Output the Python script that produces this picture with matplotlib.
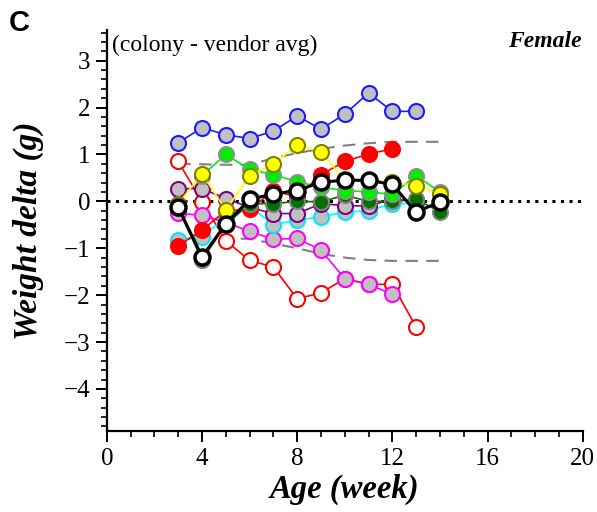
import matplotlib
matplotlib.use("Agg")
import matplotlib.pyplot as plt
import numpy as np
from matplotlib.ticker import MultipleLocator

plt.rcParams['font.family'] = ['Liberation Serif', 'DejaVu Serif']
plt.rcParams['axes.unicode_minus'] = True

# ---- data (weight delta, g) ----
weeks_3_13 = [3, 4, 5, 6, 7, 8, 9, 10, 11, 12, 13]
weeks_3_14 = [3, 4, 5, 6, 7, 8, 9, 10, 11, 12, 13, 14]
weeks_4_14 = [4, 5, 6, 7, 8, 9, 10, 11, 12, 13, 14]

blue_vals = [1.25, 1.57, 1.42, 1.34, 1.50, 1.82, 1.54, 1.86, 2.31, 1.92, 1.92]
red_open_vals = [0.85, -0.01, -0.84, -1.26, -1.40, -2.08, -1.95, -1.65, -1.77, -1.77, -2.68]
magenta_vals = [-0.25, -0.30, -0.45, -0.64, -0.81, -0.79, -1.04, -1.65, -1.77, -1.98]
magenta_weeks = [3, 4, 5, 6, 7, 8, 9, 10, 11, 12]
red_fill_vals = [-0.95, -0.61, -0.20, -0.17, 0.22, 0.10, 0.57, 0.85, 1.01, 1.12]
red_fill_weeks = [3, 4, 5, 6, 7, 8, 9, 10, 11, 12]
purple_vals = [0.27, 0.27, 0.06, -0.13, -0.26, -0.26, -0.05, -0.09, -0.10, 0.05, 0.00]
cyan_vals = [-0.83, -0.75, -0.35, -0.10, -0.50, -0.40, -0.33, -0.23, -0.20, -0.05, -0.05]
dkgreen_vals = [-0.15, -1.25, -0.50, -0.05, -0.05, 0.00, -0.01, 0.13, 0.00, 0.00, 0.04, -0.22]
green_vals = [0.55, 1.00, 0.68, 0.57, 0.42, 0.30, 0.23, 0.20, 0.15, 0.55, 0.20]
yellow_vals = [-0.05, 0.59, -0.19, 0.55, 0.79, 1.21, 1.06, 0.45, 0.45, 0.42, 0.33, 0.16]
black_vals = [-0.13, -1.18, -0.48, 0.04, 0.16, 0.23, 0.41, 0.45, 0.45, 0.36, -0.23, -0.01]

upper_band = [0.80, 0.79, 0.78, 0.78, 0.92, 1.03, 1.12, 1.19, 1.24, 1.27, 1.27, 1.27]
lower_band = [-0.80, -0.79, -0.79, -0.80, -0.90, -1.00, -1.12, -1.20, -1.25, -1.27, -1.27, -1.27]

x_ticks = [0, 4, 8, 12, 16, 20]
y_ticks = [-4, -3, -2, -1, 0, 1, 2, 3]

fig = plt.figure(figsize=(5.97, 5.12), dpi=100)
ax = fig.add_axes([0.179, 0.158, 0.797, 0.783])

# bands and zero line
ax.plot(weeks_3_14, upper_band, ls=(0, (6, 4)), color='#808080', lw=1.5, zorder=1)
ax.plot(weeks_3_14, lower_band, ls=(0, (6, 4)), color='#808080', lw=1.5, zorder=1)
ax.plot([0, 20], [0, 0], ls=(0, (1, 1.8)), color='black', lw=2.2, zorder=1)

ms = 10.8
def series(x, y, line, face, edge, lw=1.2, mew=1.5, z=3):
    ax.plot(x, y, '-', color=line, lw=lw, marker='o', ms=ms,
            mfc=face, mec=edge, mew=mew, zorder=z)

series(weeks_3_13, blue_vals, '#1a1aff', '#c0c0c0', '#1a1aff')
series(weeks_3_13, red_open_vals, '#ff0000', 'white', '#ff0000')
series(magenta_weeks, magenta_vals, '#ff00ff', '#c0c0c0', '#ff00ff')
series(weeks_3_13, cyan_vals, '#00ffff', '#c0c0c0', '#00e5ff')
series(weeks_3_13, purple_vals, '#800080', '#c0c0c0', '#800080')
series(red_fill_weeks, red_fill_vals, '#ff0000', '#ff0000', '#ff0000')
series(weeks_3_14, dkgreen_vals, '#007000', '#007000', '#808080')
series(weeks_4_14, green_vals, '#00ee00', '#00ee00', '#909090')
series(weeks_3_14, yellow_vals, '#ffff00', '#ffff00', '#808000')
series(weeks_3_14, black_vals, 'black', 'white', 'black', lw=2.2, mew=2.5, z=4)

ax.set_xlim(0, 20)
ax.set_ylim(-4.9, 3.65)
ax.set_xticks(x_ticks)
ax.set_yticks(y_ticks)
ax.xaxis.set_minor_locator(MultipleLocator(1))
ax.yaxis.set_minor_locator(MultipleLocator(0.2))
for s in ['top', 'right']:
    ax.spines[s].set_visible(False)
for s in ['left', 'bottom']:
    ax.spines[s].set_linewidth(1.6)
ax.tick_params(which='major', direction='out', length=8, width=1.4, labelsize=18, pad=4)
ax.tick_params(which='minor', direction='out', length=4, width=1.2)

ax.set_xlabel('Age (week)', fontsize=23.5, fontweight='bold', style='italic', labelpad=3)
ax.set_ylabel('Weight delta (g)', fontsize=24, fontweight='bold', style='italic', labelpad=14)

ax.text(0.01, 0.962, '(colony - vendor avg)', transform=ax.transAxes, fontsize=17,
        ha='left', va='center')
ax.text(0.998, 0.972, 'Female', transform=ax.transAxes, fontsize=17,
        fontweight='bold', style='italic', ha='right', va='center')
fig.text(0.015, 0.955, 'C', fontsize=21, fontweight='bold',
         family=['Liberation Sans', 'DejaVu Sans'], ha='left', va='center')

fig.savefig('out.png', dpi=100)
